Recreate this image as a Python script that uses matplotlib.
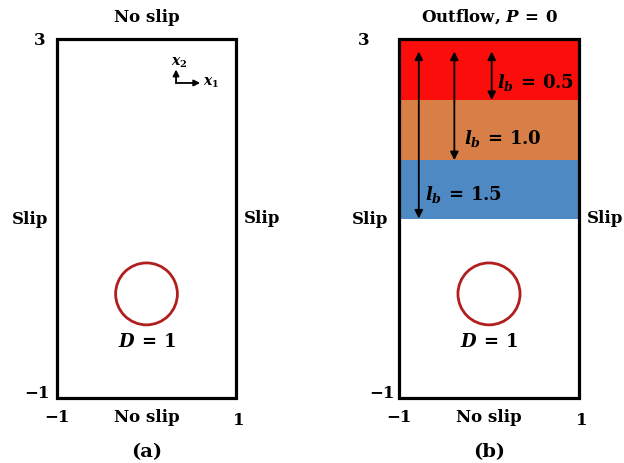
import matplotlib
matplotlib.use("Agg")
import matplotlib.pyplot as plt
from matplotlib.patches import Rectangle, Circle

# --- dados do esquema (coordenadas do domínio) ---
x_lim = [-1, 1]
y_lim = [-1, 3]
circle_center = (0.0, 0.16)
circle_radius = 0.345

# camadas de amortecimento (painel b): topo e base de cada faixa
band_edges = [3.0, 2.32, 1.65, 1.0]
band_colors = ['#FA0D0A', '#D77F47', '#4E89C3']
band_labels = [r'$l_b\,=\,0.5$', r'$l_b\,=\,1.0$', r'$l_b\,=\,1.5$']
arrow_x = [0.03, -0.385, -0.78]
arrow_top = 2.86
label_pos = [(0.52, 2.52), (0.15, 1.89), (-0.28, 1.27)]

plt.rcParams['font.family'] = 'DejaVu Serif'
plt.rcParams['font.weight'] = 'bold'
plt.rcParams['mathtext.fontset'] = 'custom'
plt.rcParams['mathtext.rm'] = 'DejaVu Serif:bold'
plt.rcParams['mathtext.it'] = 'DejaVu Serif:bold:italic'
plt.rcParams['mathtext.bf'] = 'DejaVu Serif:bold'

W, H = 624, 463
fig = plt.figure(figsize=(W / 100, H / 100), dpi=100)


def make_axes(left_px, right_px):
    ax = fig.add_axes([left_px / W, (H - 398) / H, (right_px - left_px) / W, (398 - 39) / H])
    ax.set_xlim(x_lim)
    ax.set_ylim(y_lim)
    ax.axis('off')
    return ax


def draw_common(ax, top_text, cap, slip_l, slip_r, tick3_x, tickm1_x):
    fs = 12
    ax.add_patch(Rectangle((x_lim[0], y_lim[0]), x_lim[1] - x_lim[0], y_lim[1] - y_lim[0],
                           fill=False, lw=2.3, edgecolor='black', zorder=5, clip_on=False))
    ax.add_patch(Circle(circle_center, circle_radius, fill=False, lw=2.0,
                        edgecolor='#B01E1E', zorder=4))
    ax.text(0, -0.38, r'$D\,=\,1$', ha='center', va='center', fontsize=13)
    ax.text(0, 3.245, top_text, ha='center', va='center', fontsize=fs, fontweight='bold')
    ax.text(0, -1.22, 'No slip', ha='center', va='center', fontsize=fs, fontweight='bold')
    ax.text(0, -1.6, cap, ha='center', va='center', fontsize=14, fontweight='bold')
    ax.text(slip_l, 0.99, 'Slip', ha='center', va='center', fontsize=fs, fontweight='bold')
    ax.text(slip_r, 1.0, 'Slip', ha='center', va='center', fontsize=fs, fontweight='bold')
    ax.text(tick3_x, 2.98, '3', ha='center', va='center', fontsize=fs, fontweight='bold')
    ax.text(tickm1_x, -0.95, '\u22121', ha='center', va='center', fontsize=fs, fontweight='bold')
    ax.text(-1.0, -1.22, '\u22121', ha='center', va='center', fontsize=fs, fontweight='bold')
    ax.text(1.03, -1.25, '1', ha='center', va='center', fontsize=fs, fontweight='bold')


# --- painel (a) ---
ax_a = make_axes(57, 236)
draw_common(ax_a, 'No slip', '(a)', -1.3, 1.29, -1.19, -1.22)
orig = (0.33, 2.51)
ax_a.annotate('', xy=(orig[0], 2.66), xytext=orig,
              arrowprops=dict(arrowstyle='-|>', lw=1.3, color='black', mutation_scale=9,
                              shrinkA=0, shrinkB=0))
ax_a.annotate('', xy=(0.6, orig[1]), xytext=orig,
              arrowprops=dict(arrowstyle='-|>', lw=1.3, color='black', mutation_scale=9,
                              shrinkA=0, shrinkB=0))
ax_a.text(0.36, 2.74, r'$x_2$', ha='center', va='center', fontsize=10)
ax_a.text(0.72, 2.51, r'$x_1$', ha='center', va='center', fontsize=10)

# --- painel (b) ---
ax_b = make_axes(399, 579)
for i in range(len(band_colors)):
    ax_b.axhspan(band_edges[i + 1], band_edges[i], color=band_colors[i], lw=0, zorder=1)
for i in range(len(band_labels)):
    ax_b.annotate('', xy=(arrow_x[i], band_edges[i + 1]), xytext=(arrow_x[i], arrow_top),
                  arrowprops=dict(arrowstyle='<|-|>', lw=1.3, color='black', mutation_scale=12,
                                  shrinkA=0, shrinkB=0), zorder=3)
    ax_b.text(label_pos[i][0], label_pos[i][1], band_labels[i],
              ha='center', va='center', fontsize=13, zorder=3)
draw_common(ax_b, r'Outflow, $P\,=\,0$', '(b)', -1.32, 1.29, -1.39, -1.19)

fig.savefig('out.png', dpi=100)
